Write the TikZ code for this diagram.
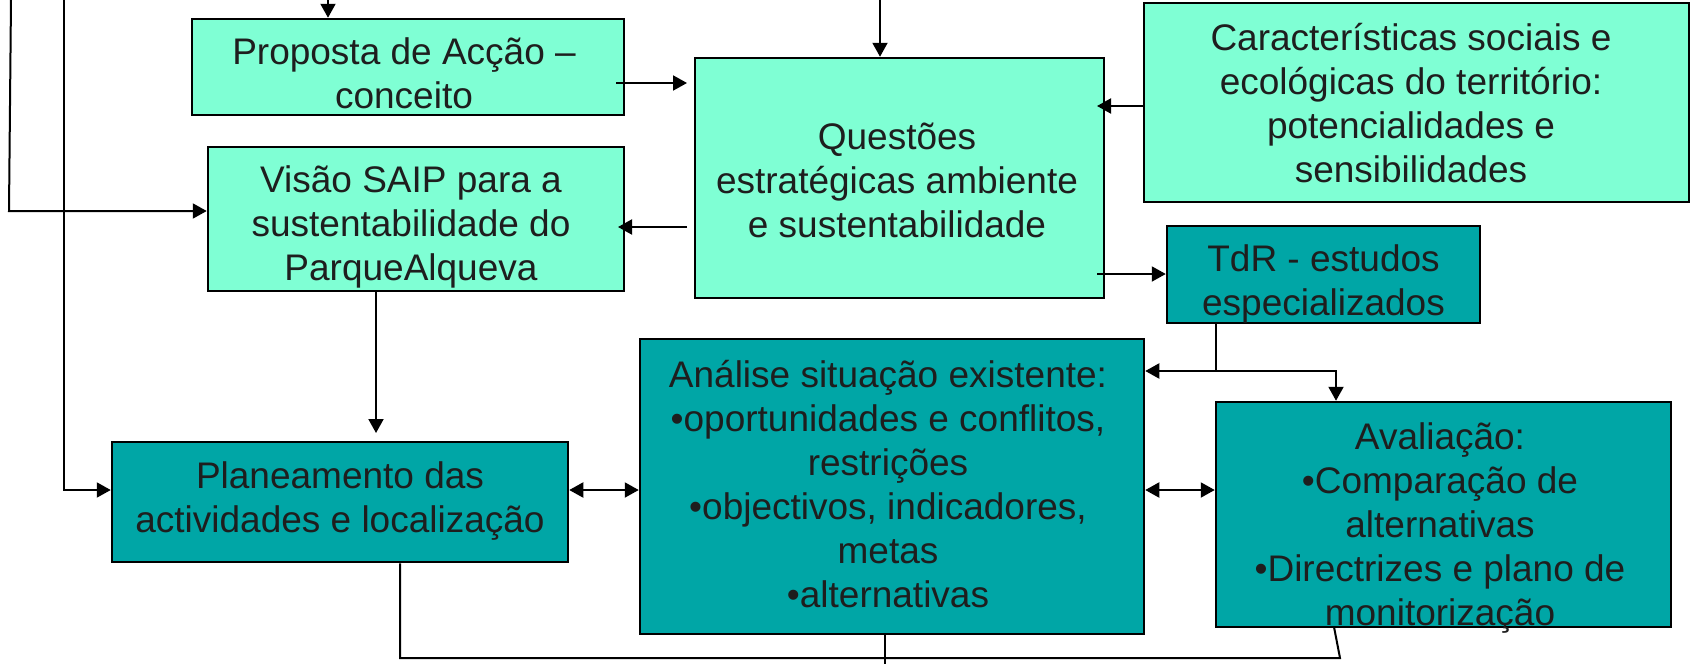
\documentclass[tikz,border=0pt]{standalone}
\usepackage{fontspec}
\setmainfont{Liberation Sans}
\usetikzlibrary{arrows.meta}
\definecolor{lgreen}{RGB}{127,255,212}
\definecolor{teal2}{RGB}{0,166,166}
\definecolor{txtc}{RGB}{30,30,30}
\begin{document}
\begin{tikzpicture}[x=1pt,y=-1pt,
 box/.style={draw=black,line width=2.5pt,inner sep=0pt},
 lbox/.style={box,fill=lgreen},
 dbox/.style={box,fill=teal2},
 txt/.style={anchor=base,align=center,inner sep=0pt,text=txtc,font=\fontsize{37pt}{44pt}\selectfont},
 conn/.style={line width=2pt},
 arr/.style={conn,-{Triangle[length=14pt,width=15pt]}},
 darr/.style={conn,{Triangle[length=14pt,width=15pt]}-{Triangle[length=14pt,width=15pt]}}]
\useasboundingbox (0,0) rectangle (1692,664);
% boxes
\node[lbox,minimum width=432pt,minimum height=96pt] (prop) at (408,67) {};
\node[lbox,minimum width=416pt,minimum height=144pt] (vis) at (416,219) {};
\node[lbox,minimum width=409pt,minimum height=240pt] (quest) at (899.5,178) {};
\node[lbox,minimum width=545pt,minimum height=199pt] (car) at (1416.5,102.5) {};
\node[dbox,minimum width=313pt,minimum height=97pt] (tdr) at (1323.5,274.5) {};
\node[dbox,minimum width=504pt,minimum height=295pt] (anal) at (892,486.5) {};
\node[dbox,minimum width=455pt,minimum height=225pt] (aval) at (1443.5,514.5) {};
\node[dbox,minimum width=456pt,minimum height=120pt] (plan) at (340,502) {};
% coordinates
\coordinate (topA) at (328,0);
\coordinate (topB) at (880,0);
\coordinate (pqS) at (616,83);
\coordinate (pqE) at (687,83);
\coordinate (qvS) at (687,227);
\coordinate (qvE) at (618,227);
\coordinate (cqE) at (1097,106);
\coordinate (qtS) at (1097,274);
\coordinate (tj) at (1216,371);
\coordinate (avx) at (1336,0);
\coordinate (mid) at (0,490);
\coordinate (vpx) at (376,433);
\coordinate (l1a) at (11,0);
\coordinate (l1b) at (9,211);
\coordinate (l2a) at (64,0);
\coordinate (l2b) at (64,490);
\coordinate (b1) at (400,658);
\coordinate (b2) at (1340,658);
\coordinate (b3) at (1334,627);
\coordinate (an) at (885,664);
% connectors
\draw[arr] (topA) -- (topA |- prop.north);
\draw[arr] (topB) -- (topB |- quest.north);
\draw[arr] (pqS) -- (pqE);
\draw[arr] (qvS) -- (qvE);
\draw[arr] (car.west |- cqE) -- (cqE);
\draw[arr] (qtS) -- (tdr.west |- qtS);
\draw[conn] (tdr.south -| tj) -- (tj);
\draw[arr] (tj) -- (anal.east |- tj);
\draw[arr] (tj) -| (aval.north -| avx);
\draw[darr] (plan.east |- mid) -- (anal.west |- mid);
\draw[darr] (anal.east |- mid) -- (aval.west |- mid);
\draw[arr] (vis.south -| vpx) -- (vpx);
\draw[arr] (l1a) -- (l1b) -- (vis.west |- l1b);
\draw[arr] (l2a) -- (l2b) -- (plan.west |- l2b);
\draw[conn] (plan.south -| b1) -- (b1) -- (b2) -- (b3);
\draw[conn] (anal.south -| an) -- (an);
% texts (anchor = baseline of last line)
\node[txt] (propt) at (404,108) {Proposta de Acção –\\conceito};
\node[txt] (vist) at (411,280) {Visão SAIP para a\\sustentabilidade do\\ParqueAlqueva};
\node[txt] (questt) at (897,237) {Questões\\estratégicas ambiente\\e sustentabilidade};
\node[txt] (cart) at (1411,182) {Características sociais e\\ecológicas do território:\\potencialidades e\\sensibilidades};
\node[txt] (tdrt) at (1323.5,315) {TdR - estudos\\especializados};
\node[txt] (analt) at (888,607) {Análise situação existente:\\•oportunidades e conflitos,\\restrições\\•objectivos, indicadores,\\metas\\•alternativas};
\node[txt] (avalt) at (1440,625) {Avaliação:\\•Comparação de\\alternativas\\•Directrizes e plano de\\monitorização};
\node[txt] (plant) at (340,532) {Planeamento das\\actividades e localização};
\end{tikzpicture}
\end{document}
